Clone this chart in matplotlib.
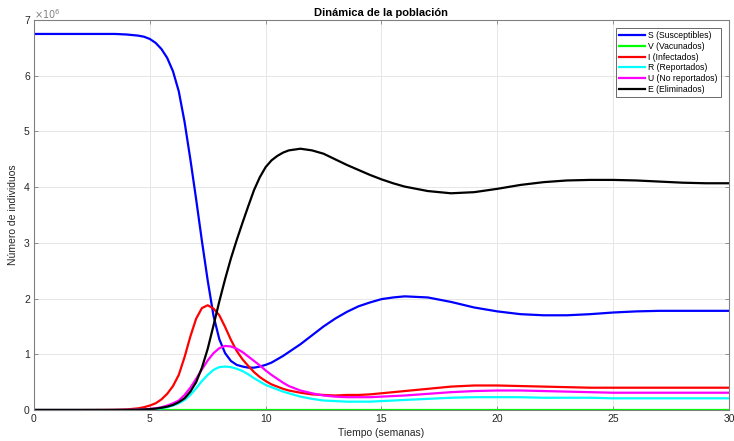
import numpy as np
import matplotlib
matplotlib.use('Agg')
import matplotlib.pyplot as plt
from matplotlib.ticker import FuncFormatter

plt.rcParams['font.family'] = ['Liberation Sans', 'DejaVu Sans']

# tiempo en semanas y poblaciones en millones de individuos
t = [0, 1, 2, 3, 3.5,
     4, 4.25, 4.5, 4.75, 5, 5.25, 5.5, 5.75, 6, 6.25, 6.5, 6.75, 7, 7.25, 7.5, 7.75,
     8, 8.25, 8.5, 8.75, 9, 9.25, 9.5, 9.75, 10, 10.25, 10.5, 10.75, 11,
     11.5, 12, 12.5, 13, 13.5, 14, 14.5, 15, 15.5, 16,
     17, 18, 19, 20, 21, 22, 23, 24, 25, 26, 27, 28, 29, 30]

S = [6.75, 6.75, 6.75, 6.75, 6.75,
     6.74, 6.73, 6.72, 6.70, 6.66, 6.59, 6.48, 6.32, 6.08, 5.72, 5.17, 4.50, 3.78, 3.03,
     2.32, 1.69, 1.27, 1.02, 0.88, 0.81, 0.78, 0.76, 0.76, 0.78, 0.81, 0.85, 0.91, 0.97,
     1.04,
     1.18, 1.34, 1.50, 1.64, 1.76, 1.86, 1.93, 1.99, 2.02, 2.04,
     2.02, 1.94, 1.84, 1.77, 1.72, 1.70, 1.70, 1.72, 1.75, 1.77, 1.78, 1.78, 1.78, 1.78]

V = [0.0] * len(t)

I = [0, 0, 0, 0.002, 0.005,
     0.01, 0.02, 0.03, 0.05, 0.08, 0.12, 0.19, 0.29, 0.43, 0.63, 0.95, 1.32, 1.64, 1.83,
     1.88, 1.82, 1.70, 1.49, 1.26, 1.06, 0.91, 0.79, 0.68, 0.59, 0.52, 0.46, 0.42, 0.38,
     0.35,
     0.31, 0.28, 0.27, 0.26, 0.27, 0.27, 0.28, 0.30, 0.32, 0.34,
     0.38, 0.42, 0.44, 0.44, 0.43, 0.42, 0.41, 0.40, 0.40, 0.40, 0.40, 0.40, 0.40, 0.40]

R = [0, 0, 0, 0, 0,
     0, 0, 0.003, 0.006, 0.01, 0.02, 0.03, 0.05, 0.08, 0.12, 0.18, 0.27, 0.39, 0.52,
     0.63, 0.72, 0.77, 0.78, 0.77, 0.74, 0.70, 0.64, 0.57, 0.51, 0.45, 0.41, 0.37, 0.33,
     0.30,
     0.24, 0.20, 0.17, 0.16, 0.15, 0.15, 0.15, 0.16, 0.17, 0.18,
     0.20, 0.22, 0.23, 0.23, 0.23, 0.22, 0.22, 0.22, 0.21, 0.21, 0.21, 0.21, 0.21, 0.21]

U = [0, 0, 0, 0, 0,
     0.002, 0.003, 0.005, 0.01, 0.02, 0.03, 0.05, 0.08, 0.12, 0.17, 0.27, 0.40, 0.56, 0.73,
     0.89, 1.02, 1.11, 1.15, 1.14, 1.10, 1.04, 0.96, 0.88, 0.80, 0.71, 0.63, 0.56, 0.49,
     0.43,
     0.35, 0.30, 0.26, 0.24, 0.23, 0.23, 0.23, 0.24, 0.25, 0.26,
     0.29, 0.32, 0.34, 0.35, 0.35, 0.34, 0.33, 0.32, 0.31, 0.31, 0.31, 0.31, 0.31, 0.31]

E = [0, 0, 0, 0, 0,
     0.002, 0.003, 0.005, 0.01, 0.015, 0.025, 0.04, 0.06, 0.09, 0.14, 0.21, 0.33, 0.50, 0.76,
     1.10, 1.52, 1.95, 2.35, 2.72, 3.05, 3.36, 3.66, 3.95, 4.18, 4.36, 4.48, 4.56, 4.62,
     4.66,
     4.69, 4.66, 4.60, 4.50, 4.40, 4.31, 4.22, 4.14, 4.07, 4.01,
     3.93, 3.89, 3.91, 3.97, 4.04, 4.09, 4.12, 4.13, 4.13, 4.12, 4.10, 4.08, 4.07, 4.07]

series = [(S, 'S (Susceptibles)', (0, 0, 1)),
          (V, 'V (Vacunados)', (0, 1, 0)),
          (I, 'I (Infectados)', (1, 0, 0)),
          (R, 'R (Reportados)', (0, 1, 1)),
          (U, 'U (No reportados)', (1, 0, 1)),
          (E, 'E (Eliminados)', (0, 0, 0))]

fig = plt.figure(figsize=(7.34, 4.41), dpi=100)
ax = fig.add_axes([0.0463, 0.0703, 0.9469, 0.8843])

for vals, name, col in series:
    ax.plot(t, np.array(vals) * 1e6, color=col, lw=1.6, label=name)

ax.set_xlim(0, 30)
ax.set_ylim(0, 7e6)
ax.set_xticks(range(0, 31, 5))
ax.set_yticks(np.arange(0, 8) * 1e6)
ax.yaxis.set_major_formatter(FuncFormatter(lambda v, p: f'{v / 1e6:g}'))

gray = '#262626'
axcol = '#808080'
ax.grid(True, color='#e6e6e6', lw=0.7)
ax.set_axisbelow(True)
for sp in ax.spines.values():
    sp.set_color(axcol)
    sp.set_linewidth(0.8)
ax.tick_params(direction='in', length=3, width=0.6, color=axcol, labelcolor=gray,
               labelsize=7.5, top=True, right=True, pad=3)

ax.text(0.0, 0.997, r'$\times10^{6}$', transform=ax.transAxes, fontsize=7,
        color=axcol, ha='left', va='bottom')

ax.set_title('Dinámica de la población', fontsize=8, fontweight='bold', color='black', pad=3)
ax.set_xlabel('Tiempo (semanas)', fontsize=7.5, color=gray, labelpad=3)
ax.set_ylabel('Número de individuos', fontsize=7.5, color=gray, labelpad=4)

leg = ax.legend(loc='upper right', fontsize=6.2, frameon=True, fancybox=False,
                handlelength=3.0, handletextpad=0.4, borderpad=0.4, labelspacing=0.2,
                borderaxespad=0.9)
leg.get_frame().set_edgecolor('#262626')
leg.get_frame().set_linewidth(0.6)

fig.savefig('out.png', dpi=100)
